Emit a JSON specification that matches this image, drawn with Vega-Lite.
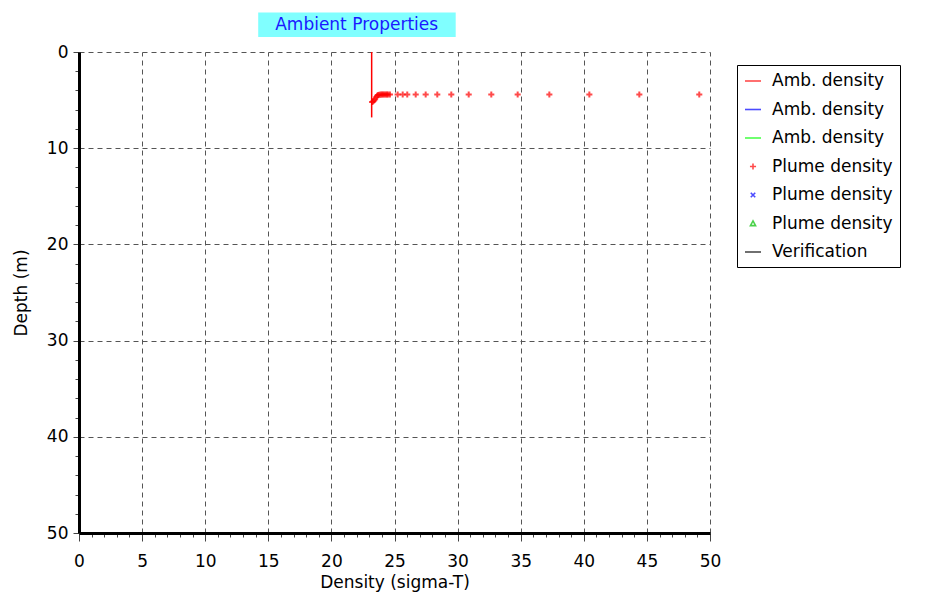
{
  "$schema": "https://vega.github.io/schema/vega-lite/v6.json",
  "width": 631,
  "height": 481,
  "autosize": {"type": "none"},
  "padding": {"left": 79, "top": 52, "right": 220, "bottom": 72},
  "background": "white",
  "config": {
    "view": {"stroke": null},
    "font": "DejaVu Sans",
    "axis": {
      "labelFont": "DejaVu Sans",
      "titleFont": "DejaVu Sans",
      "labelFontSize": 17,
      "titleFontSize": 17,
      "titleFontWeight": "normal",
      "labelColor": "black",
      "titleColor": "black",
      "domainColor": "black",
      "domainWidth": 3,
      "tickColor": "#444444",
      "tickSize": 6,
      "gridColor": "#555555",
      "gridDash": [5, 4],
      "gridOpacity": 1,
      "labelFlush": false,
      "labelOverlap": false
    },
    "legend": {
      "orient": "none",
      "legendX": 658,
      "legendY": 13,
      "strokeColor": "black",
      "fillColor": "white",
      "padding": 7,
      "labelFont": "DejaVu Sans",
      "labelFontSize": 17,
      "labelColor": "black",
      "symbolSize": 256,
      "symbolStrokeWidth": 1.6,
      "rowPadding": 11.5,
      "labelOffset": 10
    }
  },
  "resolve": {"axis": {"x": "independent", "y": "independent"}},
  "datasets": {
    "ambient": [
      {"density": 23.19, "depth": 0},
      {"density": 23.19, "depth": 6.8}
    ],
    "plume": [
      {"series": "Plume density|1", "density": 23.22, "depth": 5.2},
      {"series": "Plume density|1", "density": 23.3, "depth": 5.15},
      {"series": "Plume density|1", "density": 23.38, "depth": 5.05},
      {"series": "Plume density|1", "density": 23.46, "depth": 4.9},
      {"series": "Plume density|1", "density": 23.55, "depth": 4.7},
      {"series": "Plume density|1", "density": 23.62, "depth": 4.55},
      {"series": "Plume density|1", "density": 23.7, "depth": 4.47},
      {"series": "Plume density|1", "density": 23.8, "depth": 4.45},
      {"series": "Plume density|1", "density": 23.9, "depth": 4.43},
      {"series": "Plume density|1", "density": 24.0, "depth": 4.42},
      {"series": "Plume density|1", "density": 24.1, "depth": 4.42},
      {"series": "Plume density|1", "density": 24.2, "depth": 4.42},
      {"series": "Plume density|1", "density": 24.3, "depth": 4.42},
      {"series": "Plume density|1", "density": 24.4, "depth": 4.42},
      {"series": "Plume density|1", "density": 24.5, "depth": 4.42},
      {"series": "Plume density|1", "density": 24.64, "depth": 4.42},
      {"series": "Plume density|1", "density": 25.25, "depth": 4.42},
      {"series": "Plume density|1", "density": 25.65, "depth": 4.42},
      {"series": "Plume density|1", "density": 26.01, "depth": 4.42},
      {"series": "Plume density|1", "density": 26.68, "depth": 4.42},
      {"series": "Plume density|1", "density": 27.47, "depth": 4.42},
      {"series": "Plume density|1", "density": 28.39, "depth": 4.42},
      {"series": "Plume density|1", "density": 29.5, "depth": 4.42},
      {"series": "Plume density|1", "density": 30.88, "depth": 4.42},
      {"series": "Plume density|1", "density": 32.67, "depth": 4.42},
      {"series": "Plume density|1", "density": 34.76, "depth": 4.42},
      {"series": "Plume density|1", "density": 37.27, "depth": 4.42},
      {"series": "Plume density|1", "density": 40.44, "depth": 4.42},
      {"series": "Plume density|1", "density": 44.4, "depth": 4.42},
      {"series": "Plume density|1", "density": 49.15, "depth": 4.42}
    ]
  },
  "layer": [
    {
      "data": {"values": [{"label": "Ambient Properties"}]},
      "mark": {"type": "rect", "fill": "#80ffff"},
      "encoding": {
        "x": {
          "datum": 14.2,
          "type": "quantitative",
          "axis": {
            "orient": "bottom",
            "values": [1, 2, 3, 4, 6, 7, 8, 9, 11, 12, 13, 14, 16, 17, 18, 19, 21, 22, 23, 24, 26, 27, 28, 29, 31, 32, 33, 34, 36, 37, 38, 39, 41, 42, 43, 44, 46, 47, 48, 49],
            "labels": false,
            "grid": false,
            "domain": false,
            "title": null,
            "tickSize": 4
          }
        },
        "x2": {"datum": 29.85},
        "y": {
          "datum": -4.1,
          "type": "quantitative",
          "axis": {
            "orient": "left",
            "values": [2, 4, 6, 8, 12, 14, 16, 18, 22, 24, 26, 28, 32, 34, 36, 38, 42, 44, 46, 48],
            "labels": false,
            "grid": false,
            "domain": false,
            "title": null,
            "tickSize": 4
          }
        },
        "y2": {"datum": -1.55}
      }
    },
    {
      "data": {"name": "ambient"},
      "mark": {"type": "line", "color": "#ff0000", "strokeWidth": 1.5},
      "encoding": {
        "x": {
          "field": "density",
          "type": "quantitative",
          "scale": {"domain": [0, 50], "nice": false, "zero": false},
          "axis": {
            "orient": "bottom",
            "values": [0, 5, 10, 15, 20, 25, 30, 35, 40, 45, 50],
            "title": "Density (sigma-T)",
            "grid": true,
            "tickSize": 8,
            "labelPadding": 12,
            "titlePadding": 5
          }
        },
        "y": {
          "field": "depth",
          "type": "quantitative",
          "scale": {"domain": [0, 50], "nice": false, "zero": false, "reverse": true},
          "axis": {
            "orient": "left",
            "values": [0, 10, 20, 30, 40, 50],
            "title": "Depth (m)",
            "grid": true,
            "labelPadding": 5,
            "titlePadding": 16
          }
        },
        "order": {"field": "depth", "type": "quantitative"}
      }
    },
    {
      "data": {"name": "plume"},
      "mark": {"type": "point", "filled": false, "strokeWidth": 2, "size": 256},
      "encoding": {
        "x": {"field": "density", "type": "quantitative", "axis": null},
        "y": {"field": "depth", "type": "quantitative", "axis": null},
        "color": {
          "field": "series",
          "type": "nominal",
          "scale": {
            "domain": ["Amb. density|1", "Amb. density|2", "Amb. density|3", "Plume density|1", "Plume density|2", "Plume density|3", "Verification"],
            "range": ["#ff0000", "#0000ff", "#00ff00", "#ff0000", "#0000ff", "#00c000", "#000000"]
          },
          "legend": {"title": null, "labelExpr": "split(datum.value, '|')[0]"}
        },
        "shape": {
          "field": "series",
          "type": "nominal",
          "scale": {
            "domain": ["Amb. density|1", "Amb. density|2", "Amb. density|3", "Plume density|1", "Plume density|2", "Plume density|3", "Verification"],
            "range": ["M-1,0H1", "M-1,0H1", "M-1,0H1", "M-0.38,0H0.38M0,-0.38V0.38", "M-0.28,-0.28L0.28,0.28M-0.28,0.28L0.28,-0.28", "M0,-0.32L0.32,0.26L-0.32,0.26Z", "M-1,0H1"]
          },
          "legend": {"title": null, "labelExpr": "split(datum.value, '|')[0]"}
        }
      }
    },
    {
      "data": {"values": [{"label": "Ambient Properties"}]},
      "mark": {"type": "text", "color": "#1a1aff", "fontSize": 17, "font": "DejaVu Sans", "align": "center", "baseline": "middle"},
      "encoding": {
        "x": {"datum": 22.0, "type": "quantitative", "axis": null},
        "y": {"datum": -2.8, "type": "quantitative", "axis": null},
        "text": {"field": "label"}
      }
    }
  ]
}
